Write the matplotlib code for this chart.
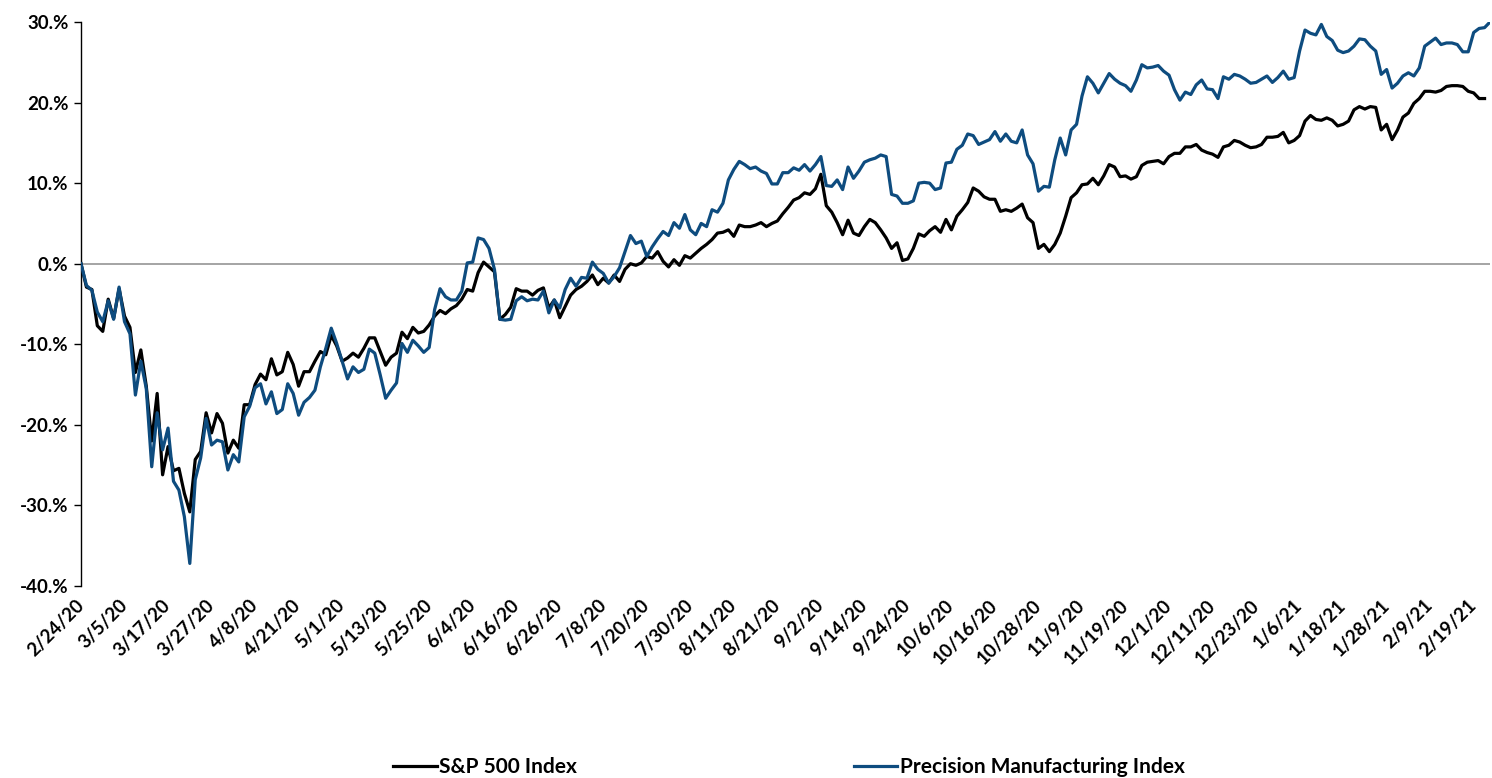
import numpy as np
import matplotlib
matplotlib.use("Agg")
import matplotlib.pyplot as plt

plt.rcParams['font.family'] = ['Lato', 'DejaVu Sans']

# cumulative return since 2/24/20, in percent (one value per trading day)
sp500 = [
    0.0, -2.9, -3.2, -7.7, -8.4, -4.4, -6.8, -3.1, -6.5, -7.9,
    -13.5, -10.7, -15.2, -22.0, -16.1, -26.2, -22.7, -25.7, -25.4, -28.5,
    -30.8, -24.3, -23.3, -18.5, -21.0, -18.6, -19.8, -23.5, -21.9, -22.9,
    -17.5, -17.5, -15.0, -13.7, -14.4, -11.8, -13.8, -13.4, -11.0, -12.5,
    -15.2, -13.4, -13.4, -12.1, -10.9, -11.3, -8.9, -10.2, -12.1, -11.7,
    -11.1, -11.6, -10.5, -9.2, -9.2, -10.9, -12.6, -11.6, -11.1, -8.5,
    -9.3, -7.9, -8.6, -8.4, -7.6, -6.5, -5.8, -6.2, -5.6, -5.2,
    -4.4, -3.2, -3.4, -1.1, 0.2, -0.4, -1.0, -6.9, -6.3, -5.4,
    -3.1, -3.4, -3.4, -3.9, -3.3, -3.0, -5.5, -4.5, -6.7, -5.3,
    -3.9, -3.2, -2.8, -2.2, -1.4, -2.6, -1.8, -2.4, -1.4, -2.2,
    -0.7, 0.0, -0.2, 0.1, 0.9, 0.7, 1.5, 0.3, -0.4, 0.5,
    -0.2, 1.0, 0.7, 1.3, 1.9, 2.4, 3.0, 3.8, 3.9, 4.2,
    3.4, 4.8, 4.6, 4.6, 4.8, 5.1, 4.6, 5.0, 5.3, 6.2,
    7.0, 7.9, 8.2, 8.8, 8.6, 9.3, 11.1, 7.2, 6.4, 5.1,
    3.6, 5.4, 3.8, 3.5, 4.6, 5.5, 5.1, 4.2, 3.2, 1.9,
    2.6, 0.4, 0.6, 1.9, 3.7, 3.4, 4.1, 4.6, 3.9, 5.5,
    4.2, 5.9, 6.7, 7.6, 9.4, 9.0, 8.3, 8.0, 8.0, 6.5,
    6.7, 6.5, 6.9, 7.4, 5.7, 5.1, 1.9, 2.4, 1.5, 2.4,
    3.8, 5.9, 8.2, 8.8, 9.8, 9.9, 10.6, 9.8, 10.9, 12.3,
    12.0, 10.8, 10.9, 10.5, 10.8, 12.2, 12.6, 12.7, 12.8, 12.4,
    13.3, 13.7, 13.7, 14.5, 14.5, 14.8, 14.1, 13.8, 13.6, 13.2,
    14.5, 14.7, 15.3, 15.1, 14.7, 14.4, 14.5, 14.8, 15.7, 15.7,
    15.8, 16.3, 15.0, 15.3, 15.9, 17.7, 18.4, 17.9, 17.8, 18.1,
    17.8, 17.1, 17.3, 17.7, 19.1, 19.5, 19.2, 19.5, 19.4, 16.6,
    17.3, 15.4, 16.6, 18.2, 18.7, 19.9, 20.5, 21.4, 21.4, 21.3,
    21.5, 22.0, 22.1, 22.1, 22.0, 21.4, 21.2, 20.5, 20.5,
]

precision = [
    0.0, -2.7, -3.3, -6.0, -7.2, -4.6, -6.9, -2.9, -7.2, -8.7,
    -16.3, -12.1, -15.5, -25.2, -18.5, -23.1, -20.4, -27.0, -28.1, -31.4,
    -37.2, -26.8, -24.1, -19.2, -22.5, -21.9, -22.1, -25.6, -23.7, -24.6,
    -19.0, -17.7, -15.4, -14.9, -17.4, -15.9, -18.6, -18.1, -14.9, -16.1,
    -18.8, -17.2, -16.6, -15.7, -12.8, -10.5, -8.0, -9.9, -12.1, -14.3,
    -12.8, -13.5, -13.1, -10.6, -11.1, -13.8, -16.7, -15.7, -14.8, -9.9,
    -11.0, -9.5, -10.2, -11.0, -10.4, -5.7, -3.1, -4.1, -4.5, -4.5,
    -3.4, 0.1, 0.2, 3.2, 3.0, 1.9, -0.7, -6.9, -7.0, -6.9,
    -4.6, -4.1, -4.6, -4.4, -4.5, -3.4, -6.1, -4.5, -5.5, -3.2,
    -1.8, -2.8, -1.7, -1.8, 0.2, -0.7, -1.2, -2.4, -1.6, -0.5,
    1.5, 3.5, 2.5, 2.8, 0.9, 2.1, 3.1, 4.0, 3.5, 5.1,
    4.4, 6.1, 4.2, 3.6, 5.0, 4.6, 6.7, 6.4, 7.5, 10.4,
    11.7, 12.7, 12.3, 11.8, 12.0, 11.5, 11.2, 9.9, 9.9, 11.3,
    11.3, 11.9, 11.6, 12.3, 11.5, 12.3, 13.3, 9.7, 9.6, 10.4,
    9.2, 12.0, 10.6, 11.5, 12.6, 12.9, 13.1, 13.5, 13.3, 8.6,
    8.4, 7.5, 7.5, 7.8, 10.0, 10.1, 10.0, 9.2, 9.4, 12.5,
    12.6, 14.2, 14.7, 16.1, 15.9, 14.8, 15.1, 15.4, 16.4, 15.2,
    16.1, 15.2, 15.0, 16.6, 13.5, 12.4, 9.0, 9.6, 9.5, 12.9,
    15.6, 13.5, 16.6, 17.3, 20.8, 23.2, 22.4, 21.2, 22.4, 23.6,
    22.9, 22.4, 22.1, 21.4, 22.8, 24.7, 24.3, 24.4, 24.6, 23.9,
    23.4, 21.6, 20.3, 21.3, 21.0, 22.2, 22.8, 21.7, 21.6, 20.5,
    23.2, 22.9, 23.5, 23.3, 22.9, 22.4, 22.5, 22.9, 23.3, 22.5,
    23.1, 23.9, 22.9, 23.1, 26.4, 29.0, 28.6, 28.4, 29.7, 28.2,
    27.7, 26.5, 26.2, 26.4, 27.0, 27.9, 27.8, 27.0, 26.4, 23.5,
    24.1, 21.8, 22.4, 23.3, 23.7, 23.3, 24.3, 27.0, 27.5, 28.0,
    27.2, 27.4, 27.4, 27.2, 26.3, 26.3, 28.7, 29.2, 29.3, 30.0,
]

date_labels = [
    "2/24/20", "3/5/20", "3/17/20", "3/27/20", "4/8/20", "4/21/20", "5/1/20",
    "5/13/20", "5/25/20", "6/4/20", "6/16/20", "6/26/20", "7/8/20", "7/20/20",
    "7/30/20", "8/11/20", "8/21/20", "9/2/20", "9/14/20", "9/24/20", "10/6/20",
    "10/16/20", "10/28/20", "11/9/20", "11/19/20", "12/1/20", "12/11/20",
    "12/23/20", "1/6/21", "1/18/21", "1/28/21", "2/9/21", "2/19/21",
]
label_step = 8  # one label every 8 trading days

y_ticks = [-40, -30, -20, -10, 0, 10, 20, 30]
y_labels = ["-40.%", "-30.%", "-20.%", "-10.%", "0.%", "10.%", "20.%", "30.%"]

fig = plt.figure(figsize=(14.92, 7.78), dpi=100)
ax = fig.add_axes([81 / 1492, 1 - 586 / 778, (1490 - 81) / 1492, (586 - 22) / 778])

ax.axhline(0, color="#8c8c8c", lw=1.1, zorder=1)
ax.plot(np.arange(len(sp500)), sp500, color="black", lw=2.3,
        label="S&P 500 Index", zorder=2)
ax.plot(np.arange(len(precision)), precision, color="#0E4C7F", lw=2.3,
        label="Precision Manufacturing Index", zorder=3)

ax.set_xlim(0, len(precision) - 1)
ax.set_ylim(-40, 30)

ax.set_yticks(y_ticks)
ax.set_yticklabels(y_labels, fontsize=13.5, fontweight="bold")
ax.tick_params(axis="y", direction="out", length=5, width=1, pad=4)

ax.set_xticks(np.arange(len(date_labels)) * label_step)
ax.set_xticklabels(date_labels, fontsize=13.5, fontweight="bold",
                   rotation=45, ha="right", va="center", rotation_mode="anchor")
ax.tick_params(axis="x", length=0, pad=12)

for side in ["top", "right", "bottom"]:
    ax.spines[side].set_visible(False)
ax.spines["left"].set_linewidth(1)

fig.legend(loc="center", bbox_to_anchor=(789 / 1492, 1 - 767 / 778), ncol=2,
           frameon=False, prop={"size": 15, "weight": "bold"},
           handlelength=2.07, handletextpad=0.12, columnspacing=13.3)

fig.savefig("out.png", dpi=100)
plt.close(fig)
